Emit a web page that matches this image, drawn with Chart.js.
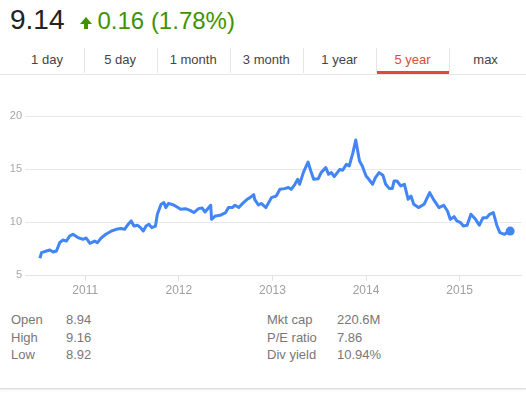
<!DOCTYPE html>
<html>
<head>
<meta charset="utf-8">
<script src="https://cdn.jsdelivr.net/npm/chart.js@4"></script>
<style>
  html, body { margin: 0; padding: 0; background: #fff; }
  body { width: 526px; height: 394px; position: relative; overflow: hidden; font-family: Arial, "Liberation Sans", sans-serif; }
  .quote { position: absolute; left: 10px; top: 4px; white-space: nowrap; }
  .price { font-size: 28px; color: #222; }
  .change { font-size: 24px; color: #3d9400; margin-left: 33px; }
  .arrow { position: absolute; left: 70px; top: 13px; width: 12px; height: 12px; }
  .arrow .head { position: absolute; left: 0; top: 0; width: 0; height: 0; border-left: 6px solid transparent; border-right: 6px solid transparent; border-bottom: 7px solid #3d9400; }
  .arrow .stem { position: absolute; left: 4px; top: 6px; width: 4px; height: 6px; background: #3d9400; }
  .tab { position: absolute; top: 48px; height: 24px; line-height: 24px; width: 73px; text-align: center; font-size: 13px; color: #444; }
  .tab.on { color: #dd4b39; }
  .div { position: absolute; top: 48px; width: 1px; height: 25px; background: #e6e6e6; }
  .under { position: absolute; left: 377px; top: 71px; width: 72px; height: 3px; background: #dd4b39; }
  .rule { position: absolute; left: 0; top: 74px; width: 526px; height: 1px; background: #e6e6e6; }
  #wrap { position: absolute; left: 0; top: 100px; width: 526px; height: 200px; }
  .stats { position: absolute; top: 311px; font-size: 13px; line-height: 17.5px; color: #777; }
  .stats div span { display: inline-block; }
  .foot { position: absolute; left: 0; top: 388px; width: 526px; height: 1px; background: #dedede; box-shadow: 0 1px 2px rgba(0,0,0,0.12); }
</style>
</head>
<body>
<div class="quote"><span class="price">9.14</span><span class="change">0.16 (1.78%)</span></div>
<div class="arrow" style="left:80px;top:17px"><div class="head"></div><div class="stem"></div></div>

<div id="tabs"></div>
<div class="under"></div>
<div class="rule"></div>

<div id="wrap"><canvas id="chart"></canvas></div>

<div class="stats" style="left:11px">
  <div><span style="width:55px">Open</span><span>8.94</span></div>
  <div><span style="width:55px">High</span><span>9.16</span></div>
  <div><span style="width:55px">Low</span><span>8.92</span></div>
</div>
<div class="stats" style="left:267px">
  <div><span style="width:70px">Mkt cap</span><span>220.6M</span></div>
  <div><span style="width:70px">P/E ratio</span><span>7.86</span></div>
  <div><span style="width:70px">Div yield</span><span>10.94%</span></div>
</div>
<div class="foot"></div>

<script>
const tabLabels = ['1 day', '5 day', '1 month', '3 month', '1 year', '5 year', 'max'];
const activeTab = '5 year';

// fractional year of each sample
const dates = [
  2010.515, 2010.533, 2010.586, 2010.621, 2010.656, 2010.692, 2010.727, 2010.762, 2010.798, 2010.833,
  2010.868, 2010.921, 2010.975, 2011.01, 2011.05, 2011.10, 2011.13, 2011.17, 2011.22, 2011.28,
  2011.33, 2011.38, 2011.42, 2011.45, 2011.49, 2011.52, 2011.56, 2011.59, 2011.62, 2011.65,
  2011.68, 2011.71, 2011.75, 2011.77, 2011.81, 2011.84, 2011.86, 2011.89, 2011.95, 2012.02,
  2012.07, 2012.12, 2012.16, 2012.21, 2012.25, 2012.28, 2012.34, 2012.35, 2012.39, 2012.44,
  2012.50, 2012.53, 2012.57, 2012.60, 2012.64, 2012.69, 2012.73, 2012.76, 2012.80, 2012.81,
  2012.85, 2012.88, 2012.93, 2012.96, 2012.99, 2013.04, 2013.08, 2013.13, 2013.17, 2013.20,
  2013.24, 2013.27, 2013.29, 2013.33, 2013.38, 2013.41, 2013.44, 2013.49, 2013.52, 2013.57,
  2013.60, 2013.63, 2013.66, 2013.72, 2013.75, 2013.79, 2013.82, 2013.86, 2013.89, 2013.93,
  2013.96, 2014.00, 2014.03, 2014.07, 2014.10, 2014.14, 2014.18, 2014.21, 2014.25, 2014.28,
  2014.30, 2014.33, 2014.37, 2014.41, 2014.45, 2014.48, 2014.51, 2014.56, 2014.62, 2014.68,
  2014.72, 2014.78, 2014.83, 2014.87, 2014.90, 2014.94, 2014.97, 2015.01, 2015.04, 2015.08,
  2015.12, 2015.17, 2015.21, 2015.25, 2015.29, 2015.32, 2015.36, 2015.40, 2015.43, 2015.48,
  2015.52, 2015.54
];

const prices = [
  6.58, 7.11, 7.26, 7.36, 7.17, 7.26, 8.05, 8.30, 8.20, 8.68,
  8.84, 8.53, 8.37, 8.49, 7.99, 8.20, 8.05, 8.49, 8.84, 9.15,
  9.31, 9.38, 9.31, 9.69, 10.10, 9.62, 9.69, 9.47, 9.15, 9.62,
  9.78, 9.47, 9.62, 10.73, 11.67, 11.83, 11.36, 11.76, 11.58, 11.20,
  11.26, 11.10, 10.89, 11.26, 11.32, 10.94, 11.58, 10.25, 10.57, 10.63,
  10.89, 11.36, 11.36, 11.58, 11.36, 11.83, 12.14, 12.30, 12.58, 12.14,
  11.60, 11.75, 11.36, 11.83, 12.30, 12.45, 13.08, 13.15, 13.25, 13.08,
  13.56, 14.03, 13.56, 14.66, 15.66, 14.81, 14.03, 14.09, 14.66, 15.13,
  14.50, 14.66, 14.28, 14.97, 14.88, 15.44, 15.28, 16.55, 17.74, 15.75,
  15.28, 14.34, 14.03, 13.56, 14.19, 14.66, 14.41, 13.56, 13.15, 13.15,
  13.87, 13.87, 13.40, 13.56, 12.14, 12.45, 11.67, 11.36, 11.67, 12.77,
  12.14, 11.36, 11.58, 11.04, 10.25, 10.50, 10.10, 9.94, 9.62, 9.69,
  10.73, 10.25, 9.69, 10.41, 10.41, 10.73, 10.89, 9.62, 9.00, 8.84,
  9.15, 9.14
];

const yearTicks = [2011, 2012, 2013, 2014, 2015];
const priceTicks = [5, 10, 15, 20];

// tabs
const tabs = document.getElementById('tabs');
tabLabels.forEach((t, i) => {
  const el = document.createElement('div');
  el.className = 'tab' + (t === activeTab ? ' on' : '');
  el.style.left = (10.5 + i * 73.1) + 'px';
  el.textContent = t;
  tabs.appendChild(el);
  if (i > 0) {
    const d = document.createElement('div');
    d.className = 'div';
    d.style.left = Math.round(10.5 + i * 73.1) + 'px';
    tabs.appendChild(d);
  }
});

const points = dates.map((d, i) => ({ x: d, y: prices[i] }));
const last = points.length - 1;
const blue = '#4285f4';
const tickFont = { family: 'Arial, "Liberation Sans", sans-serif', size: 11 };

new Chart(document.getElementById('chart'), {
  type: 'line',
  data: {
    datasets: [{
      data: points,
      borderColor: blue,
      backgroundColor: blue,
      borderWidth: 3,
      borderJoinStyle: 'round',
      tension: 0,
      pointRadius: ctx => ctx.dataIndex === last ? 4.5 : 0,
      pointBorderWidth: 0,
      fill: false
    }]
  },
  options: {
    responsive: true, maintainAspectRatio: false,
    animation: false,
    layout: { padding: { top: 16, right: 1, left: 0, bottom: 0 } },
    plugins: { legend: { display: false }, tooltip: { enabled: false } },
    scales: {
      x: {
        type: 'linear',
        min: 2010.356, max: 2015.661,
        afterFit: s => { s.height = 25; },
        afterBuildTicks: s => { s.ticks = yearTicks.map(v => ({ value: v })); },
        grid: { drawOnChartArea: false, drawTicks: true, tickLength: 6, color: '#e3e3e3' },
        border: { display: true, color: '#e3e3e3' },
        ticks: { color: '#a0a0a0', font: { ...tickFont, size: 12 }, padding: 2, callback: v => String(v), maxRotation: 0 }
      },
      y: {
        min: 5, max: 20,
        afterFit: s => { s.width = 25; },
        afterBuildTicks: s => { s.ticks = priceTicks.map(v => ({ value: v })); },
        grid: { drawTicks: false, color: '#e8e8e8' },
        border: { display: false },
        ticks: { color: '#a8a8a8', font: tickFont, padding: 3 }
      }
    }
  }
});
</script>
</body>
</html>
